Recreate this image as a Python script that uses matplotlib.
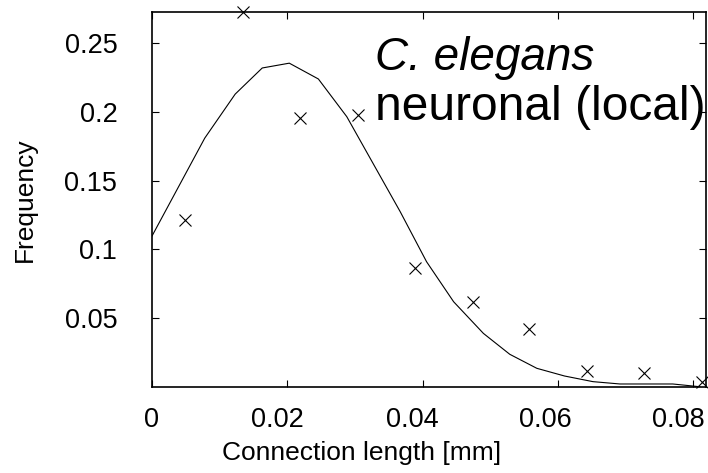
import matplotlib
matplotlib.use("Agg")
import matplotlib.pyplot as plt
from matplotlib.transforms import ScaledTranslation

plt.rcParams['font.family'] = ['Liberation Sans', 'DejaVu Sans']

# измеренные частоты (крестики)
bin_x = [0.0049, 0.0134, 0.0219, 0.0304, 0.0389, 0.0474, 0.0558, 0.0643, 0.0728, 0.0813]
bin_freq = [0.1215, 0.2727, 0.1955, 0.1975, 0.0868, 0.0618, 0.0422, 0.0116, 0.0102, 0.0036]

# модельная кривая
fit_x = [0.0, 0.0078, 0.0123, 0.0163, 0.0203, 0.0246, 0.0288, 0.0328, 0.0367, 0.0406,
         0.0446, 0.0490, 0.0529, 0.0569, 0.0610, 0.0652, 0.0692, 0.0730, 0.0770, 0.0810]
fit_y = [0.1098, 0.1810, 0.2130, 0.2320, 0.2355, 0.2240, 0.1966, 0.1616, 0.1275, 0.0911,
         0.0620, 0.0390, 0.0238, 0.0136, 0.0080, 0.0039, 0.0022, 0.0022, 0.0022, 0.0002]

x_ticks = [0, 0.02, 0.04, 0.06, 0.08]
x_tick_labels = ["0", "0.02", "0.04", "0.06", "0.08"]
y_ticks = [0.05, 0.1, 0.15, 0.2, 0.25]
y_tick_labels = ["0.05", "0.1", "0.15", "0.2", "0.25"]

fig = plt.figure(figsize=(7.08, 4.73), dpi=100)
ax = fig.add_axes([0.2147, 0.1818, 0.7823, 0.7928])

ax.plot(fit_x, fit_y, color='black', linewidth=0.8)
ax.plot(bin_x, bin_freq, linestyle='none', marker='x', color='black',
        markersize=9, markeredgewidth=0.8, clip_on=False)

ax.set_xlim(0, 0.0819)
ax.set_ylim(0, 0.2727)
ax.set_xticks(x_ticks)
ax.set_xticklabels(x_tick_labels)
ax.set_yticks(y_ticks)
ax.set_yticklabels(y_tick_labels)
ax.tick_params(axis='both', direction='in', top=True, right=True, length=5, width=0.8,
               labelsize=19.5)
ax.tick_params(axis='x', pad=14.4)
ax.tick_params(axis='y', pad=25)
for s in ax.spines.values():
    s.set_linewidth(1.2)

# подписи по x в оригинале чуть сдвинуты влево (в пикселях)
shifts = [-1, -10, -10, -12, -15]
for lab, dx in zip(ax.get_xticklabels(), shifts):
    lab.set_transform(lab.get_transform() + ScaledTranslation(dx / 100, 0, fig.dpi_scale_trans))

ax.text(0.4025, 0.845, "C. elegans", transform=ax.transAxes, fontsize=33,
        style='italic', va='baseline', ha='left')
ax.text(0.4025, 0.712, "neuronal (local)", transform=ax.transAxes, fontsize=34.5,
        va='baseline', ha='left')

fig.text(361.7 / 708, 1 - 453 / 473, "Connection length [mm]", ha='center', va='center', fontsize=19)
fig.text(25 / 708, 1 - 200 / 473, "Frequency", ha='center', va='center', rotation=90, fontsize=19)

fig.savefig("out.png", dpi=100)
